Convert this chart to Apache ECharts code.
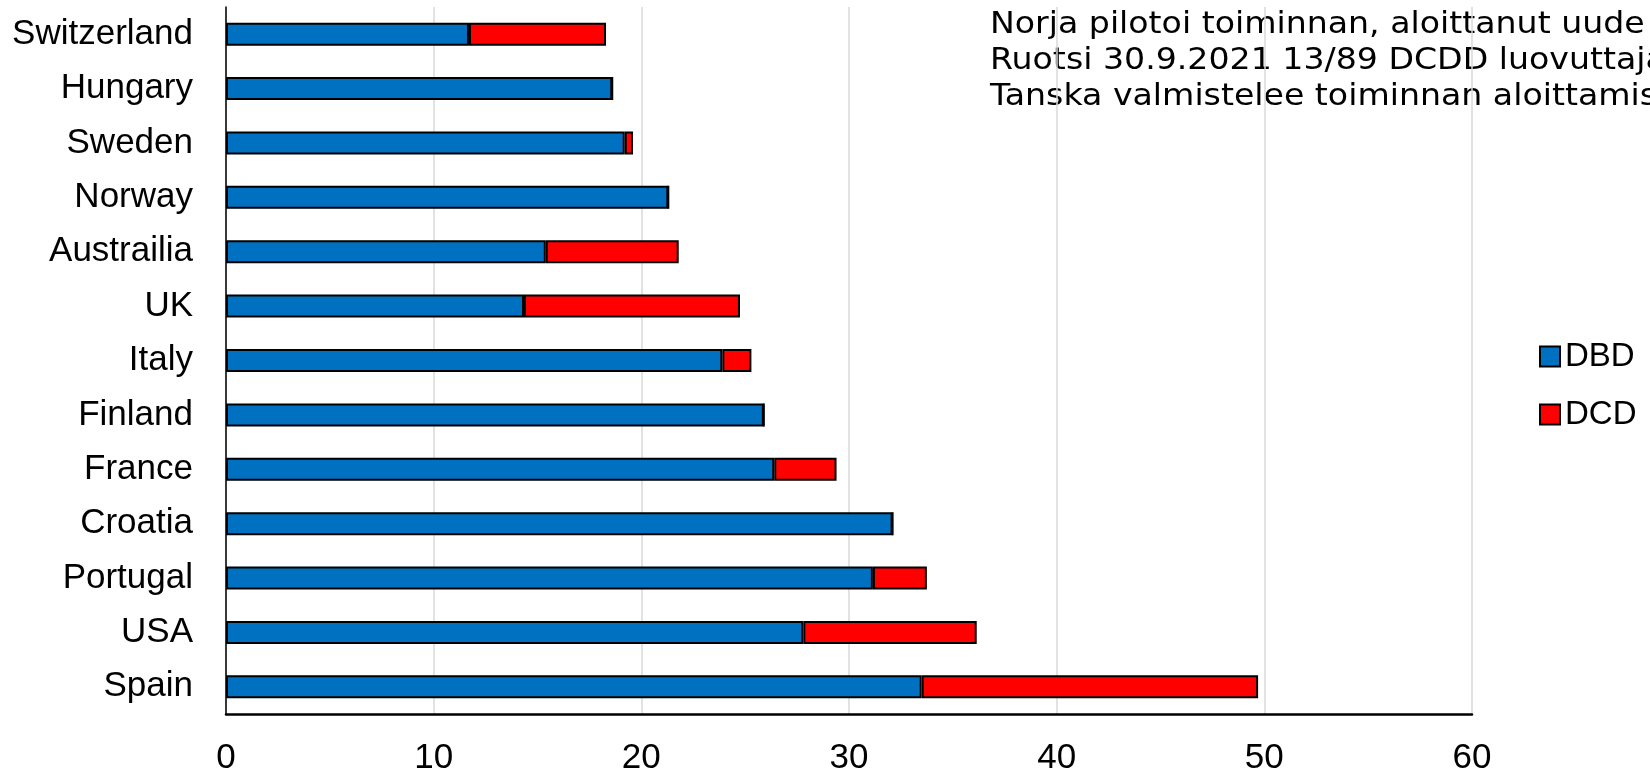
<!DOCTYPE html>
<html>
<head>
<meta charset="utf-8">
<script src="https://cdn.jsdelivr.net/npm/echarts@6/dist/echarts.min.js"></script>
<style>html,body{margin:0;padding:0;background:#fff}#c{width:1650px;height:772px}</style>
</head>
<body>
<div id="c"></div>
<script>
const categories = ['Switzerland','Hungary','Sweden','Norway','Austrailia','UK','Italy','Finland','France','Croatia','Portugal','USA','Spain'];
const dbd = [11.7, 18.6, 19.2, 21.3, 15.4, 14.35, 23.9, 25.9, 26.4, 32.1, 31.15, 27.8, 33.5];
const dcd = [6.6, 0, 0.4, 0, 6.4, 10.4, 1.4, 0, 3.0, 0, 2.6, 8.35, 16.2];
const seriesNames = ['DBD', 'DCD'];
const noteLines = [
  'Norja pilotoi toiminnan, aloittanut uude',
  'Ruotsi 30.9.2021 13/89 DCDD luovuttaja',
  'Tanska valmistelee toiminnan aloittamis'
];

const chart = echarts.init(document.getElementById('c'));
const labelFont = 'Liberation Sans, Arial, sans-serif';
chart.setOption({
  animation: false,
  backgroundColor: '#fff',
  grid: { left: 226, right: 178, top: 7, bottom: 58, containLabel: false, outerBoundsMode: 'none' },
  xAxis: {
    type: 'value', min: 0, max: 60, interval: 10,
    axisLine: { show: true, lineStyle: { color: '#000', width: 2.5 } },
    axisTick: { show: false },
    splitLine: { show: true, lineStyle: { color: '#d9d9d9', width: 1.5 } },
    axisLabel: { fontSize: 35, fontFamily: labelFont, color: '#000', margin: 27 }
  },
  yAxis: {
    type: 'category', data: categories, inverse: true,
    axisLine: { show: true, lineStyle: { color: '#000', width: 1.5 } },
    axisTick: { show: false },
    axisLabel: { fontSize: 35, fontFamily: labelFont, color: '#000', margin: 33 }
  },
  legend: {
    orient: 'vertical', left: 1534, top: 334,
    icon: 'rect', itemWidth: 20, itemHeight: 20, itemGap: 23,
    textStyle: { fontSize: 33, fontFamily: labelFont, color: '#000', lineHeight: 35 },
    data: seriesNames
  },
  series: [
    { name: seriesNames[0], type: 'bar', stack: 'a', data: dbd, barWidth: 23,
      itemStyle: { color: '#0070C0', borderColor: '#000', borderWidth: 2 } },
    { name: seriesNames[1], type: 'bar', stack: 'a', data: dcd, barWidth: 23,
      itemStyle: { color: '#FF0000', borderColor: '#000', borderWidth: 2 } }
  ],
  graphic: noteLines.map((t, i) => ({
    type: 'text', x: 990, y: 25 + i * 36, scaleX: 1.07,
    style: { text: t, font: '31px "DejaVu Sans", sans-serif', fill: '#000', verticalAlign: 'middle', align: 'left' }
  }))
});
</script>
</body>
</html>
